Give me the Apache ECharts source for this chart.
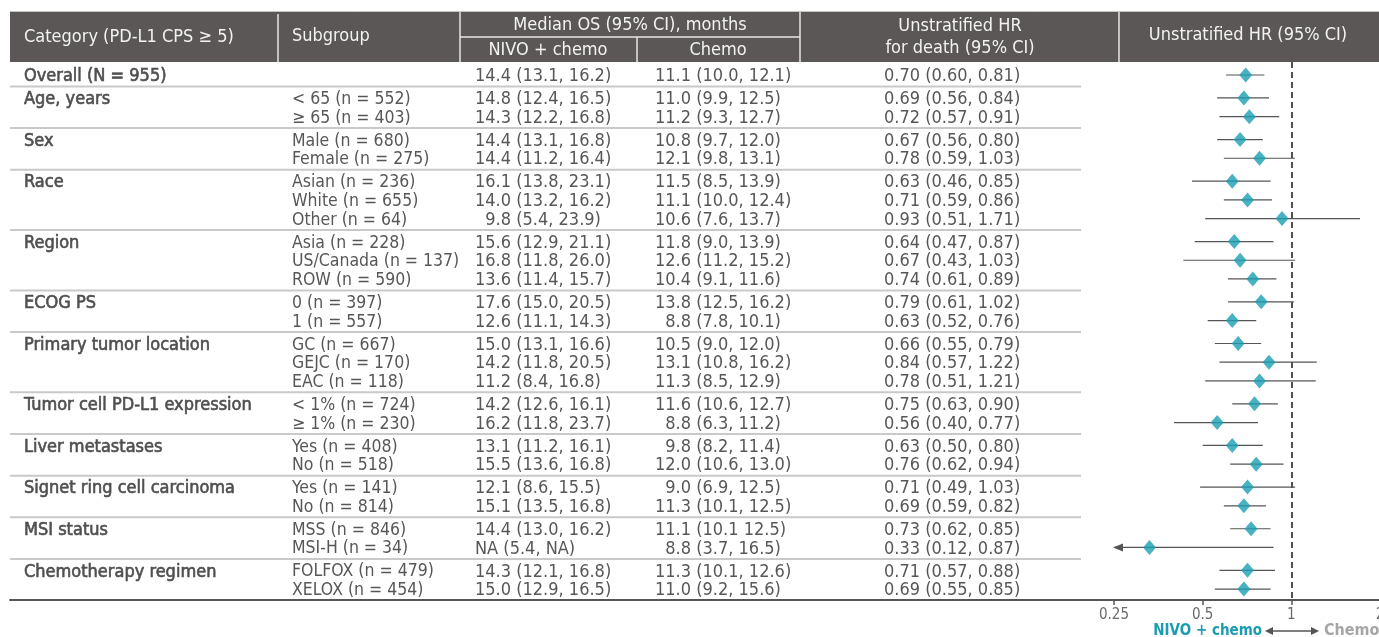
<!DOCTYPE html>
<html>
<head>
<meta charset="utf-8">
<title>Overall survival by subgroup (PD-L1 CPS ≥ 5)</title>
<script src="https://cdn.jsdelivr.net/npm/echarts@6/dist/echarts.min.js"></script>
<style>
  html, body { margin: 0; padding: 0; background: #ffffff; }
  #chart { width: 1379px; height: 637px; }
</style>
</head>
<body>
<div id="chart"></div>
<script>
// ---- Data -------------------------------------------------------------
const categories = [
  'Overall (N = 955)', 'Age, years', 'Sex', 'Race', 'Region', 'ECOG PS',
  'Primary tumor location', 'Tumor cell PD-L1 expression', 'Liver metastases',
  'Signet ring cell carcinoma', 'MSI status', 'Chemotherapy regimen'
];
const groupSizes = [1, 2, 2, 3, 3, 2, 3, 2, 2, 2, 2, 2];

const subgroups = [
  '',
  '< 65 (n = 552)', '≥ 65 (n = 403)',
  'Male (n = 680)', 'Female (n = 275)',
  'Asian (n = 236)', 'White (n = 655)', 'Other (n = 64)',
  'Asia (n = 228)', 'US/Canada (n = 137)', 'ROW (n = 590)',
  '0 (n = 397)', '1 (n = 557)',
  'GC (n = 667)', 'GEJC (n = 170)', 'EAC (n = 118)',
  '< 1% (n = 724)', '≥ 1% (n = 230)',
  'Yes (n = 408)', 'No (n = 518)',
  'Yes (n = 141)', 'No (n = 814)',
  'MSS (n = 846)', 'MSI-H (n = 34)',
  'FOLFOX (n = 479)', 'XELOX (n = 454)'
];

const nivoOS = [
  '14.4 (13.1, 16.2)',
  '14.8 (12.4, 16.5)', '14.3 (12.2, 16.8)',
  '14.4 (13.1, 16.8)', '14.4 (11.2, 16.4)',
  '16.1 (13.8, 23.1)', '14.0 (13.2, 16.2)', '9.8 (5.4, 23.9)',
  '15.6 (12.9, 21.1)', '16.8 (11.8, 26.0)', '13.6 (11.4, 15.7)',
  '17.6 (15.0, 20.5)', '12.6 (11.1, 14.3)',
  '15.0 (13.1, 16.6)', '14.2 (11.8, 20.5)', '11.2 (8.4, 16.8)',
  '14.2 (12.6, 16.1)', '16.2 (11.8, 23.7)',
  '13.1 (11.2, 16.1)', '15.5 (13.6, 16.8)',
  '12.1 (8.6, 15.5)', '15.1 (13.5, 16.8)',
  '14.4 (13.0, 16.2)', 'NA (5.4, NA)',
  '14.3 (12.1, 16.8)', '15.0 (12.9, 16.5)'
];

const chemoOS = [
  '11.1 (10.0, 12.1)',
  '11.0 (9.9, 12.5)', '11.2 (9.3, 12.7)',
  '10.8 (9.7, 12.0)', '12.1 (9.8, 13.1)',
  '11.5 (8.5, 13.9)', '11.1 (10.0, 12.4)', '10.6 (7.6, 13.7)',
  '11.8 (9.0, 13.9)', '12.6 (11.2, 15.2)', '10.4 (9.1, 11.6)',
  '13.8 (12.5, 16.2)', '8.8 (7.8, 10.1)',
  '10.5 (9.0, 12.0)', '13.1 (10.8, 16.2)', '11.3 (8.5, 12.9)',
  '11.6 (10.6, 12.7)', '8.8 (6.3, 11.2)',
  '9.8 (8.2, 11.4)', '12.0 (10.6, 13.0)',
  '9.0 (6.9, 12.5)', '11.3 (10.1, 12.5)',
  '11.1 (10.1 12.5)', '8.8 (3.7, 16.5)',
  '11.3 (10.1, 12.6)', '11.0 (9.2, 15.6)'
];

const hr = [
  0.70,
  0.69, 0.72,
  0.67, 0.78,
  0.63, 0.71, 0.93,
  0.64, 0.67, 0.74,
  0.79, 0.63,
  0.66, 0.84, 0.78,
  0.75, 0.56,
  0.63, 0.76,
  0.71, 0.69,
  0.73, 0.33,
  0.71, 0.69
];
const hrLow = [
  0.60,
  0.56, 0.57,
  0.56, 0.59,
  0.46, 0.59, 0.51,
  0.47, 0.43, 0.61,
  0.61, 0.52,
  0.55, 0.57, 0.51,
  0.63, 0.40,
  0.50, 0.62,
  0.49, 0.59,
  0.62, 0.12,
  0.57, 0.55
];
const hrHigh = [
  0.81,
  0.84, 0.91,
  0.80, 1.03,
  0.85, 0.86, 1.71,
  0.87, 1.03, 0.89,
  1.02, 0.76,
  0.79, 1.22, 1.21,
  0.90, 0.77,
  0.80, 0.94,
  1.03, 0.82,
  0.85, 0.87,
  0.88, 0.85
];

const hrTicks = [0.25, 0.5, 1, 2];

// ---- Layout / style ---------------------------------------------------
const FONT = "'DejaVu Sans Condensed', 'DejaVu Sans', sans-serif";
const TEXT_COLOR = '#575757';
const TEAL = '#1a9db3';
const HEADER_BG = '#5b5756';
const GROUP_GAP = 0.226;          // extra spacing between groups, in row units
const Y_MIN = -0.695, Y_MAX = 28.07;
const COL = { category: 24, subgroup: 292, nivo: 475, chemo: 655, hr: 884 };
const SEP_END = 1081;
const TEXT_DY = 1.5;

// Row positions (row units, top to bottom) and group membership
const rowPos = [], rowGroup = [], firstOfGroup = [];
(function () {
  let r = 0;
  groupSizes.forEach(function (n, g) {
    for (let k = 0; k < n; k++) {
      rowPos.push(r + g * GROUP_GAP);
      rowGroup.push(g);
      firstOfGroup.push(k === 0);
      r++;
    }
  });
})();

// Boundaries between groups (mid-way between last and next first row)
const separators = [];
for (let i = 1; i < rowPos.length; i++) {
  if (rowGroup[i] !== rowGroup[i - 1]) separators.push((rowPos[i] + rowPos[i - 1]) / 2);
}

// Single-digit medians get a figure space so decimals line up
function padMedian(s) { return /^\d\./.test(s) ? '\u2007' + s : s; }
function hrText(i) {
  return hr[i].toFixed(2) + ' (' + hrLow[i].toFixed(2) + ', ' + hrHigh[i].toFixed(2) + ')';
}

const tableRows = rowPos.map(function (p, i) { return [0, p, i]; });

const chart = echarts.init(document.getElementById('chart'), null, { renderer: 'canvas' });

function txt(x, y, s, opts) {
  return {
    type: 'text', x: x, y: y, silent: true,
    style: Object.assign({
      text: s, fill: '#f2f2f2', font: '18px ' + FONT,
      align: 'left', verticalAlign: 'middle'
    }, opts || {})
  };
}
function ln(x1, y1, x2, y2, stroke, w) {
  return { type: 'line', silent: true, shape: { x1: x1, y1: y1, x2: x2, y2: y2 },
           style: { stroke: stroke, lineWidth: w } };
}

const header = [
  { type: 'rect', silent: true, shape: { x: 10, y: 12, width: 1369, height: 50 },
    style: { fill: HEADER_BG } },
  ln(10, 11.5, 1379, 11.5, '#c4c4c4', 1),
  ln(278, 14, 278, 62, '#e6e6e6', 1.5),
  ln(460, 12, 460, 62, '#e6e6e6', 1.5),
  ln(460, 37, 800, 37, '#e6e6e6', 1.5),
  ln(637, 37, 637, 62, '#e6e6e6', 1.5),
  ln(800, 12, 800, 62, '#e6e6e6', 1.5),
  ln(1119, 12, 1119, 62, '#e6e6e6', 1.5),
  txt(24, 37, 'Category (PD-L1 CPS ≥ 5)'),
  txt(292, 36, 'Subgroup'),
  txt(630, 25, 'Median OS (95% CI), months', { align: 'center' }),
  txt(548, 50, 'NIVO + chemo', { align: 'center' }),
  txt(718, 50, 'Chemo', { align: 'center' }),
  txt(960, 26, 'Unstratified HR', { align: 'center' }),
  txt(960, 48, 'for death (95% CI)', { align: 'center' }),
  txt(1248, 35, 'Unstratified HR (95% CI)', { align: 'center' }),
  // direction legend under the HR axis
  txt(1262, 631, 'NIVO + chemo', { align: 'right', fill: TEAL, font: 'bold 15px ' + FONT }),
  ln(1270, 631, 1314, 631, '#555555', 1.5),
  { type: 'polygon', silent: true, shape: { points: [[1265, 631], [1273, 627], [1273, 635]] },
    style: { fill: '#555555' } },
  { type: 'polygon', silent: true, shape: { points: [[1319, 631], [1311, 627], [1311, 635]] },
    style: { fill: '#555555' } },
  txt(1324, 631, 'Chemo', { fill: '#a6a6a6', font: 'bold 16px ' + FONT })
];

const option = {
  animation: false,
  backgroundColor: '#ffffff',
  grid: [
    // table area (text columns + bottom rule)
    { left: 10, right: 0, top: 62, bottom: 37, outerBoundsMode: 'none' },
    // forest plot area
    { left: 1114, right: -1, top: 62, bottom: 37, outerBoundsMode: 'none', containLabel: false }
  ],
  xAxis: [
    { gridIndex: 0, type: 'value', min: 10, max: 1379, show: true, position: 'bottom',
      axisLine: { show: true, onZero: false, lineStyle: { color: '#555555', width: 2 } },
      axisTick: { show: false }, axisLabel: { show: false }, splitLine: { show: false } },
    { gridIndex: 1, type: 'log', logBase: 2, min: hrTicks[0], max: hrTicks[hrTicks.length - 1],
      position: 'bottom',
      axisLine: { show: false, onZero: false },
      axisTick: { show: true, length: 5, lineStyle: { color: '#555555', width: 1.5 } },
      axisLabel: { color: '#6b6b6b', fontSize: 15, fontFamily: FONT, margin: 8,
                   showMaxLabel: true, hideOverlap: false,
                   formatter: function (v) { return String(+(+v).toFixed(2)); } },
      splitLine: { show: false } }
  ],
  yAxis: [
    { gridIndex: 0, type: 'value', inverse: true, min: Y_MIN, max: Y_MAX, show: false },
    { gridIndex: 1, type: 'value', inverse: true, min: Y_MIN, max: Y_MAX, show: false }
  ],
  graphic: header,
  series: [
    // group separators
    {
      type: 'custom', xAxisIndex: 0, yAxisIndex: 0, silent: true,
      data: separators.map(function (p) { return [0, p]; }),
      renderItem: function (params, api) {
        const a = api.coord([10, api.value(1)]);
        const b = api.coord([SEP_END, api.value(1)]);
        return { type: 'line', shape: { x1: a[0], y1: a[1], x2: b[0], y2: b[1] },
                 style: { stroke: '#c9c9c9', lineWidth: 2 } };
      }
    },
    // table text
    {
      type: 'custom', xAxisIndex: 0, yAxisIndex: 0, silent: true,
      data: tableRows,
      renderItem: function (params, api) {
        const p = api.value(1), i = api.value(2);
        const y = api.coord([10, p])[1] + TEXT_DY;
        const base = { fill: TEXT_COLOR, font: '18px ' + FONT, align: 'left', verticalAlign: 'middle' };
        const kids = [];
        if (firstOfGroup[i]) {
          kids.push({ type: 'text', x: COL.category, y: y,
            style: Object.assign({}, base, { text: categories[rowGroup[i]], fill: '#4f4f4f',
                                             stroke: '#4f4f4f', lineWidth: 0.6 }) });
        }
        kids.push({ type: 'text', x: COL.subgroup, y: y,
          style: Object.assign({}, base, { text: subgroups[i], font: '17.5px ' + FONT }) });
        kids.push({ type: 'text', x: COL.nivo, y: y, style: Object.assign({}, base, { text: padMedian(nivoOS[i]) }) });
        kids.push({ type: 'text', x: COL.chemo, y: y, style: Object.assign({}, base, { text: padMedian(chemoOS[i]) }) });
        kids.push({ type: 'text', x: COL.hr, y: y, style: Object.assign({}, base, { text: hrText(i) }) });
        return { type: 'group', children: kids };
      }
    },
    // confidence-interval whiskers
    {
      type: 'custom', xAxisIndex: 1, yAxisIndex: 1, silent: true, z: 2,
      data: rowPos.map(function (p, i) { return [hrLow[i], hrHigh[i], p]; }),
      renderItem: function (params, api) {
        const lo = api.value(0), hi = api.value(1), p = api.value(2);
        const minV = hrTicks[0];
        const clipped = lo < minV;
        const a = api.coord([clipped ? minV : lo, p]);
        const b = api.coord([hi, p]);
        const kids = [{ type: 'line', shape: { x1: a[0], y1: a[1], x2: b[0], y2: b[1] },
                        style: { stroke: '#555555', lineWidth: 1.2 } }];
        if (clipped) {
          kids.push({ type: 'polygon',
            shape: { points: [[a[0] - 1, a[1]], [a[0] + 9, a[1] - 4], [a[0] + 9, a[1] + 4]] },
            style: { fill: '#555555' } });
        }
        return { type: 'group', children: kids };
      }
    },
    // point estimates
    {
      type: 'scatter', xAxisIndex: 1, yAxisIndex: 1, z: 3,
      symbol: 'diamond', symbolSize: [13, 15],
      itemStyle: { color: TEAL },
      data: rowPos.map(function (p, i) { return [hr[i], p]; }),
      markLine: {
        silent: true, symbol: 'none', animation: false,
        label: { show: false },
        lineStyle: { type: [6, 4], color: '#505050', width: 2 },
        data: [{ xAxis: 1 }]
      }
    }
  ]
};

chart.setOption(option);
</script>
</body>
</html>
